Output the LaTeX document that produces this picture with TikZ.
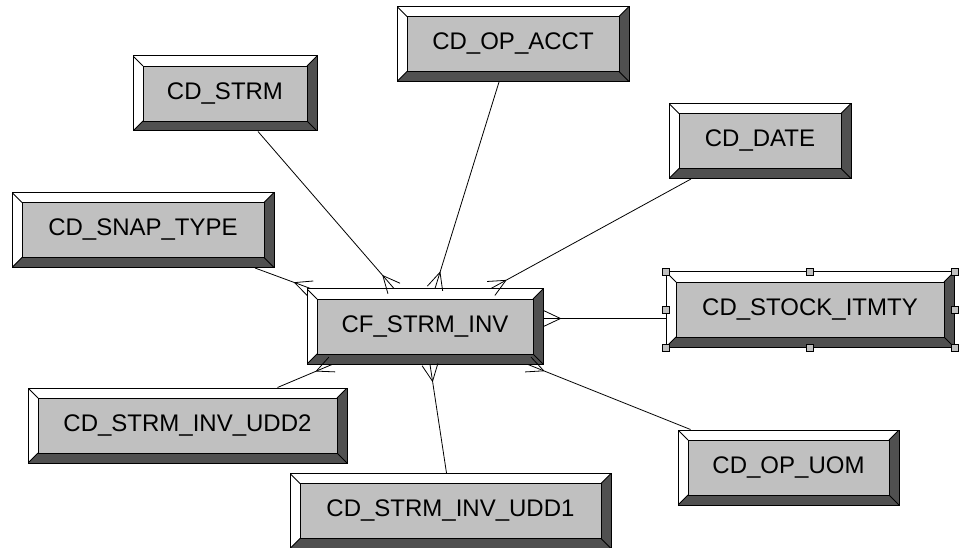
\documentclass[tikz,border=0pt]{standalone}
\usepackage{fontspec}
\newfontfamily\entityfont{Liberation Sans}
\usetikzlibrary{decorations.markings}
\definecolor{bevelgray}{HTML}{505050}
\definecolor{facegray}{HTML}{C0C0C0}
\tikzset{
	entity/.style = {draw, line width=1pt, fill=white, rectangle, inner sep=0pt, minimum height=75pt,
		font=\entityfont\fontsize{24}{28}\selectfont,
		path picture={
			\coordinate (sw) at (path picture bounding box.south west);
			\coordinate (ne) at (path picture bounding box.north east);
			\fill[bevelgray] (sw) -- (sw -| ne) -- (ne) -- ([shift={(-10pt,-10pt)}]ne)
				-- ([shift={(-10pt,10pt)}]sw -| ne) -- ([shift={(10pt,10pt)}]sw) -- cycle;
			\draw[line width=0.8pt] (sw) -- ++(10pt,10pt) (ne) -- ++(-10pt,-10pt)
				(sw |- ne) -- ++(10pt,-10pt) (sw -| ne) -- ++(-10pt,10pt);
			\draw[line width=0.8pt, fill=facegray] ([shift={(10pt,10pt)}]sw) rectangle ([shift={(-10pt,-10pt)}]ne);
		}},
	handle/.style = {draw, line width=0.6pt, fill=facegray, rectangle, inner sep=0pt, minimum size=7pt},
	many/.style   = {postaction={decorate, decoration={markings,
		mark=at position 1 with {\draw (-17pt,0pt) -- (0pt,8pt) (-17pt,0pt) -- (0pt,-8pt);}}}},
}

\begin{document}
\begin{tikzpicture}[x=1pt, y=-1pt, line width=0.8pt]
	\useasboundingbox (0,0) rectangle (967,548);
	% Draw the fact table and the dimension tables
	\path
	node[entity, minimum width=236pt] at (425,326.5) (inv)     {CF\_STRM\_INV}
	node[entity, minimum width=184pt] at (225,93.5)  (strm)    {CD\_STRM}
	node[entity, minimum width=232pt] at (513,44)    (opacct)  {CD\_OP\_ACCT}
	node[entity, minimum width=182pt] at (760,141)   (date)    {CD\_DATE}
	node[entity, minimum width=262pt] at (143,230)   (snap)    {CD\_SNAP\_TYPE}
	node[entity, minimum width=288pt] at (810,309.5) (stock)   {CD\_STOCK\_ITMTY}
	node[entity, minimum width=319pt] at (187.5,425.5) (udd2)  {CD\_STRM\_INV\_UDD2}
	node[entity, minimum width=321pt] at (450.5,511) (udd1)    {CD\_STRM\_INV\_UDD1}
	node[entity, minimum width=221pt] at (788.5,467.5) (uom)   {CD\_OP\_UOM};
	
	% Connect the dimensions to the fact table
	\draw[many] ([xshift=33pt]strm.south)    -- ([xshift=-31pt]inv.north);
	\draw[many] ([xshift=-14pt]opacct.south) -- ([xshift=10pt]inv.north);
	\draw[many] ([xshift=-69pt]date.south)   -- ([xshift=66pt]inv.north);
	\draw[many] ([xshift=112pt]snap.south)   -- ([xshift=4pt]inv.north west);
	\draw[many] ([yshift=-9pt]stock.west)    -- ([yshift=8pt]inv.east);
	\draw[many] ([xshift=90pt]udd2.north)    -- ([xshift=-93pt]inv.south);
	\draw[many] ([xshift=-4pt]udd1.north)    -- ([xshift=5pt]inv.south);
	\draw[many] ([xshift=-98pt]uom.north)    -- ([xshift=103pt]inv.south);
	
	% Draw the selection handles
	\foreach \a [count=\i] in {north west, north, north east, east, south east, south, south west, west}
		\node[handle] (handle\i) at (stock.\a) {};
\end{tikzpicture}
\end{document}
